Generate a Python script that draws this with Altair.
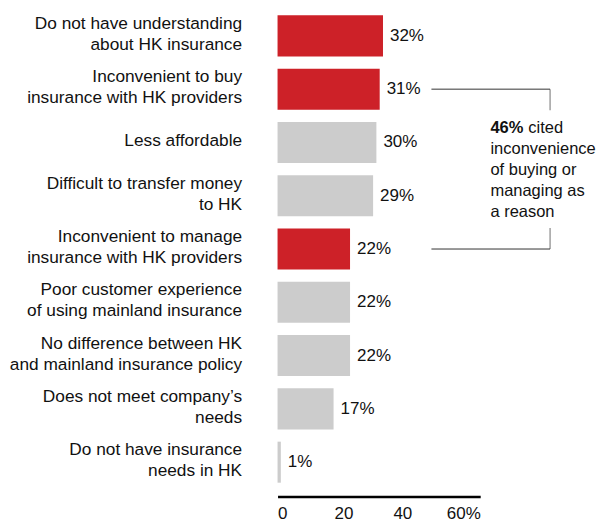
import altair as alt
import pandas as pd

categories = [
    "Do not have understanding\nabout HK insurance",
    "Inconvenient to buy\ninsurance with HK providers",
    "Less affordable",
    "Difficult to transfer money\nto HK",
    "Inconvenient to manage\ninsurance with HK providers",
    "Poor customer experience\nof using mainland insurance",
    "No difference between HK\nand mainland insurance policy",
    "Does not meet company\u2019s\nneeds",
    "Do not have insurance\nneeds in HK",
]
values = [32, 31, 30, 29, 22, 22, 22, 17, 1]
highlight = [True, True, False, False, True, False, False, False, False]
x_ticks = [0, 20, 40, 60]

bracket_rows = [categories[1], categories[4]]
bracket_x0 = 46.7
bracket_x1 = 82.7
note_x = 64.6
note_bold = "46%"
note_first = "cited"
note_rest = ["inconvenience", "of buying or", "managing as", "a reason"]

FONT = "Liberation Sans"
RED = "#CD2128"
GREY = "#CCCCCC"
INK = "#111111"
NOTE_SIZE = 16.5

df = pd.DataFrame({
    "reason": categories,
    "pct": values,
    "group": ["hi" if h else "lo" for h in highlight],
})
df["label"] = df["pct"].astype(str) + "%"

bracket_df = pd.DataFrame({"reason": bracket_rows, "x0": [bracket_x0] * 2, "x1": [bracket_x1] * 2})
bold_df = pd.DataFrame({"reason": [categories[2]], "nx": [note_x], "t": [note_bold]})
first_df = pd.DataFrame({"reason": [categories[2]], "nx": [note_x], "t": [note_first]})
rest_df = pd.DataFrame({"reason": [categories[2]], "nx": [note_x], "t": ["\n".join(note_rest)]})

y = alt.Y(
    "reason:N",
    sort=categories,
    scale=alt.Scale(paddingInner=0.23, paddingOuter=0.13),
    axis=alt.Axis(
        title=None, domain=False, ticks=False,
        labelExpr="split(datum.label, '\\n')",
        labelFontSize=17.3, labelFont=FONT, labelColor=INK,
        labelPadding=36, labelLimit=320, labelLineHeight=21,
        labelOffset={"condition": {"test": "indexof(datum.label, '\\n') >= 0", "value": -12},
                     "value": -1},
    ),
)

x = alt.X(
    "pct:Q",
    scale=alt.Scale(domain=[0, 61.5], nice=False, zero=True),
    axis=alt.Axis(
        title=None, values=x_ticks, grid=False, ticks=False,
        domainColor="black", domainWidth=2.5, offset=7,
        labelFontSize=17, labelFont=FONT, labelColor=INK, labelPadding=9,
        labelExpr="datum.value == 60 ? '60%' : datum.label",
        labelAlign={"condition": [
            {"test": "datum.value == 0", "value": "left"},
            {"test": "datum.value == 60", "value": "right"},
        ], "value": "center"},
        labelOffset={"condition": [
            {"test": "datum.value == 40", "value": -7},
            {"test": "datum.value == 60", "value": 5},
        ], "value": 0},
    ),
)

bars = alt.Chart(df).mark_bar().encode(
    x=x, y=y,
    color=alt.Color("group:N", scale=alt.Scale(domain=["hi", "lo"], range=[RED, GREY]), legend=None),
)

labels = alt.Chart(df).mark_text(
    align="left", baseline="middle", dx=7, fontSize=17, font=FONT, color=INK
).encode(x="pct:Q", y=y, text="label:N")

hlines = alt.Chart(bracket_df).mark_rule(color="#333333", strokeWidth=1).encode(
    x="x0:Q", x2="x1:Q", y=y
)
vtop = alt.Chart(bracket_df.iloc[[0]]).mark_tick(
    orient="vertical", size=21, thickness=1, color="#333333", yOffset=10.5
).encode(x="x1:Q", y=y)
vbot = alt.Chart(bracket_df.iloc[[1]]).mark_tick(
    orient="vertical", size=21, thickness=1, color="#333333", yOffset=-10.5
).encode(x="x1:Q", y=y)

note_bold_t = alt.Chart(bold_df).mark_text(
    align="left", baseline="middle", fontSize=NOTE_SIZE, font=FONT, fontWeight="bold", color=INK, yOffset=-14
).encode(x="nx:Q", y=y, text="t:N")
note_first_t = alt.Chart(first_df).mark_text(
    align="left", baseline="middle", fontSize=NOTE_SIZE, font=FONT, color=INK, yOffset=-14, dx=38
).encode(x="nx:Q", y=y, text="t:N")
note_rest_t = alt.Chart(rest_df).mark_text(
    align="left", baseline="middle", fontSize=NOTE_SIZE, font=FONT, color=INK, yOffset=7,
    lineBreak="\n", lineHeight=21
).encode(x="nx:Q", y=y, text="t:N")

chart = alt.layer(
    bars, labels, hlines, vtop, vbot, note_bold_t, note_first_t, note_rest_t
).properties(
    width=203, height=482,
    autosize=alt.AutoSizeParams(type="none"),
    padding={"left": 270, "top": 0, "right": 118, "bottom": 32},
).configure_view(stroke=None)

chart.save("out.html", embed_options={"renderer": "svg", "actions": False})
